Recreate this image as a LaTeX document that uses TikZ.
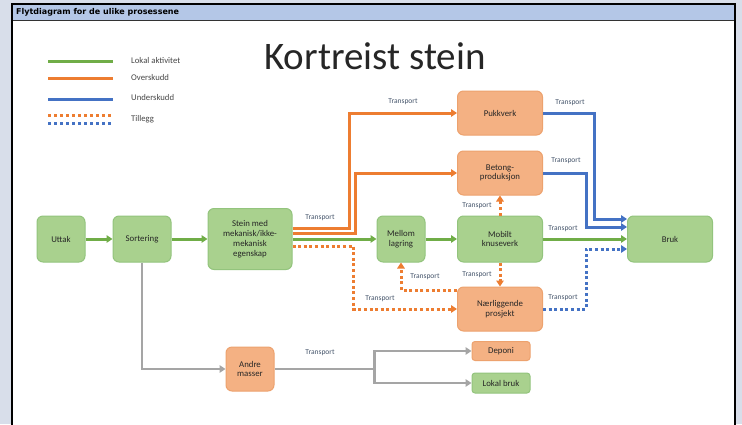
\documentclass[tikz,border=0pt]{standalone}
\usepackage{fontspec}
\setmainfont{Carlito}
\newfontfamily\barfont{DejaVu Sans}
\usetikzlibrary{arrows.meta}
\definecolor{gfill}{HTML}{A9D18E}
\definecolor{gborder}{HTML}{93C47D}
\definecolor{gline}{HTML}{70AD47}
\definecolor{ofill}{HTML}{F4B183}
\definecolor{oborder}{HTML}{EDA26E}
\definecolor{oline}{HTML}{ED7D31}
\definecolor{bline}{HTML}{4472C4}
\definecolor{grline}{HTML}{A5A5A5}
\definecolor{bgc}{HTML}{D8DEEA}
\definecolor{barc}{HTML}{B4C7E7}
\definecolor{lbl}{HTML}{44546A}
\definecolor{txt}{HTML}{262626}
\tikzset{
  box/.style={rounded corners=6pt, line width=1pt, align=center, text=txt,
    font=\fontsize{8.8}{9.8}\selectfont, inner sep=1pt},
  gbox/.style={box, draw=gborder, fill=gfill},
  obox/.style={box, draw=oborder, fill=ofill},
  tip/.style={-{Triangle[length=6pt,width=7.5pt]}},
  garr/.style={tip, draw=gline, line width=3pt},
  oarr/.style={tip, draw=oline, line width=3pt},
  barr/.style={tip, draw=bline, line width=3pt},
  odarr/.style={tip, draw=oline, line width=3pt, dash pattern=on 3pt off 2.6pt},
  bdarr/.style={tip, draw=bline, line width=3pt, dash pattern=on 3pt off 2.6pt},
  grarr/.style={tip, draw=grline, line width=2.5pt},
  tlabel/.style={text=lbl, font=\fontsize{7.5}{8}\selectfont, inner sep=0pt},
  leglabel/.style={text=txt!85, font=\fontsize{8.7}{9}\selectfont, anchor=west, inner sep=0pt},
}
\begin{document}
\begin{tikzpicture}[x=1pt,y=-1pt]
\useasboundingbox (0,0) rectangle (742,424);
% frame
\fill[bgc] (0,0) rectangle (742,424);
\fill[white] (12,4) rectangle (735,424);
\fill[barc] (12,4) rectangle (735,20);
\draw[black!80, line width=0.8pt] (12,20.5) -- (735,20.5);
\draw[black, line width=2.2pt] (12,426) -- (12,4) -- (735,4) -- (735,426);
\node[anchor=west, inner sep=0pt, font=\barfont\bfseries\fontsize{8}{9}\selectfont] (bartitle) at (16,12.5) {Flytdiagram for de ulike prosessene};
% title
\node[font=\fontsize{39}{41}\selectfont, text=txt, inner sep=0pt] (title) at (375,56) {Kortreist stein};
% legend
\draw[gline, line width=3pt] (48,61) -- (113,61);
\draw[oline, line width=3pt] (48,78) -- (113,78);
\draw[bline, line width=3pt] (48,99) -- (113,99);
\draw[oline, line width=3pt, dash pattern=on 3pt off 3pt] (48,115) -- (113,115);
\draw[bline, line width=3pt, dash pattern=on 3pt off 3pt] (48,123) -- (113,123);
\node[leglabel] (l1) at (131,61) {Lokal aktivitet};
\node[leglabel] (l2) at (131,78) {Overskudd};
\node[leglabel] (l3) at (131,98) {Underskudd};
\node[leglabel] (l4) at (131,119) {Tillegg};
% nodes
\node[gbox, minimum width=48pt, minimum height=46pt] (uttak) at (61,239) {Uttak};
\node[gbox, minimum width=58pt, minimum height=46pt] (sort) at (142,239) {Sortering};
\node[gbox, minimum width=84pt, minimum height=61pt] (stein) at (250,239) {Stein med\\mekanisk/ikke-\\mekanisk\\egenskap};
\node[gbox, minimum width=48pt, minimum height=46pt] (mellom) at (401,239) {Mellom\\lagring};
\node[gbox, minimum width=85pt, minimum height=46pt] (mobilt) at (500,239) {Mobilt\\knuseverk};
\node[gbox, minimum width=85pt, minimum height=46pt] (bruk) at (670,239) {Bruk};
\node[obox, minimum width=85pt, minimum height=44pt] (pukk) at (500,113) {Pukkverk};
\node[obox, minimum width=85pt, minimum height=44pt] (betong) at (500,173) {Betong-\\produksjon};
\node[obox, minimum width=85pt, minimum height=44pt] (naer) at (500,309) {Nærliggende\\prosjekt};
\node[obox, minimum width=48pt, minimum height=44pt] (andre) at (250,369) {Andre\\masser};
\node[obox, minimum width=58pt, minimum height=19pt, rounded corners=3pt] (deponi) at (501,351) {Deponi};
\node[gbox, minimum width=58pt, minimum height=20pt, rounded corners=3pt] (lokal) at (501,383) {Lokal bruk};
% connectors
\draw[garr] (uttak) -- (sort);
\draw[garr] (sort) -- (stein);
\draw[oarr] ([yshift=11pt]stein.east) -- ++(57,0) |- (pukk.west);
\draw[oarr] ([yshift=6pt]stein.east) -- ++(63,0) |- (betong.west);
\draw[garr] (stein) -- (mellom);
\draw[odarr] ([yshift=-7pt]stein.east) -- ++(61,0) |- (naer.west);
\draw[garr] (mellom) -- (mobilt);
\draw[garr] (mobilt) -- (bruk);
\draw[odarr] (mobilt.north) -- (betong.south);
\draw[odarr] (mobilt.south) -- (naer.north);
\draw[odarr] ([yshift=19pt]naer.west) -| (mellom.south);
\draw[barr] (pukk.east) -- ++(51,0) |- ([yshift=20pt]bruk.west);
\draw[barr] (betong.east) -- ++(43,0) |- ([yshift=12pt]bruk.west);
\draw[bdarr] (naer.east) -- ++(43,0) |- ([yshift=-10pt]bruk.west);
\draw[grarr] (sort.south) |- (andre.west);
\draw[grline, line width=2.5pt] (andre.east) -- ++(100,0) coordinate (split);
\draw[grarr] (split) |- (deponi.west);
\draw[grarr] (split) |- (lokal.west);
% labels
\node[tlabel] (t1) at (403,102) {Transport};
\node[tlabel] (t2) at (570,103) {Transport};
\node[tlabel] (t3) at (566,161) {Transport};
\node[tlabel] (t4) at (477,206) {Transport};
\node[tlabel] (t5) at (320,218) {Transport};
\node[tlabel] (t6) at (563,229) {Transport};
\node[tlabel] (t7) at (477,275) {Transport};
\node[tlabel] (t8) at (425,277) {Transport};
\node[tlabel] (t9) at (380,299) {Transport};
\node[tlabel] (t10) at (563,298) {Transport};
\node[tlabel] (t11) at (320,353) {Transport};
\end{tikzpicture}
\end{document}
